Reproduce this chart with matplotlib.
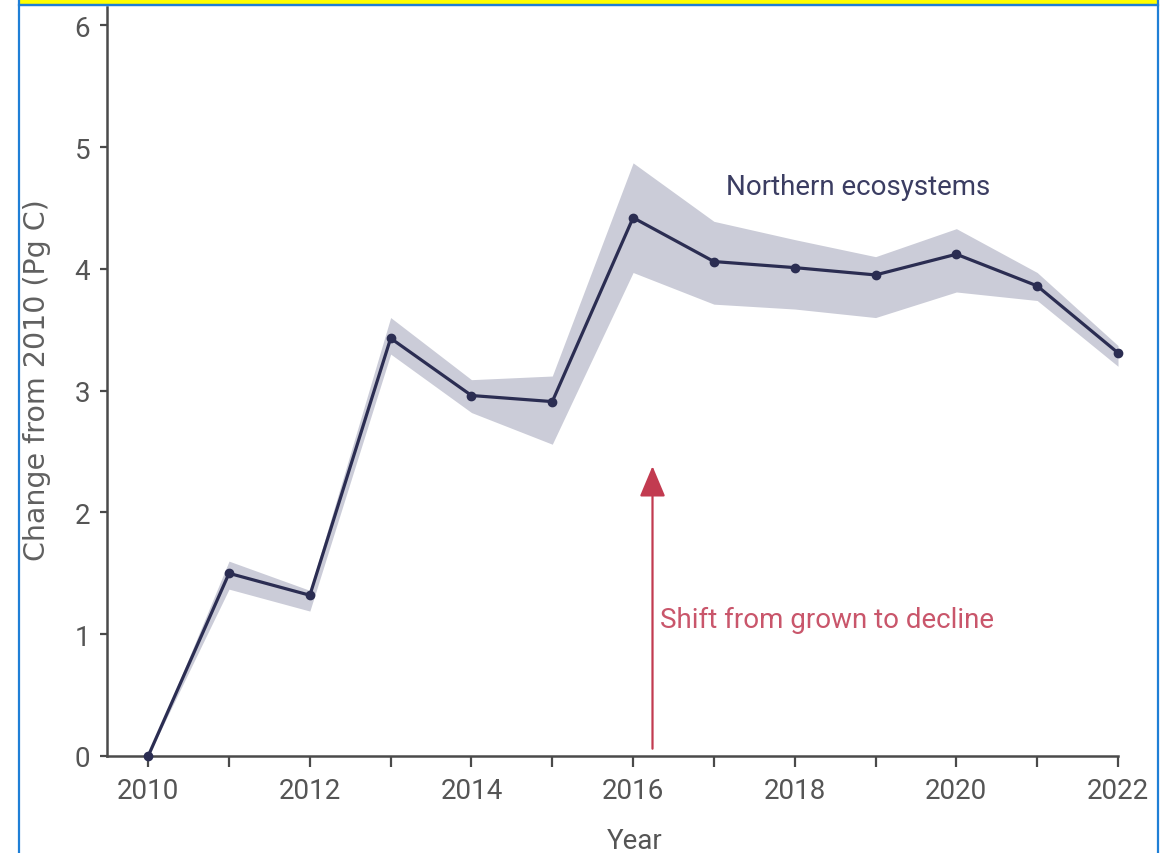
import matplotlib
matplotlib.use("Agg")
import matplotlib.pyplot as plt
from matplotlib.patches import Rectangle

# carbon stock change, northern ecosystems (Pg C relative to 2010)
years = [2010, 2011, 2012, 2013, 2014, 2015, 2016, 2017, 2018, 2019, 2020, 2021, 2022]
change = [0.0, 1.50, 1.32, 3.43, 2.96, 2.91, 4.42, 4.06, 4.01, 3.95, 4.12, 3.86, 3.31]
upper = [0.0, 1.60, 1.36, 3.60, 3.09, 3.12, 4.87, 4.39, 4.24, 4.10, 4.33, 3.97, 3.37]
lower = [0.0, 1.37, 1.19, 3.30, 2.82, 2.56, 3.97, 3.71, 3.67, 3.60, 3.81, 3.74, 3.20]

xtick_years = [2010, 2012, 2014, 2016, 2018, 2020, 2022]
yticks = [0, 1, 2, 3, 4, 5, 6]

shift_year = 2016.24
arrow_top = 2.38

line_col = "#2b2d52"
band_col = "#cbccd8"
gray = "#555555"
red = "#c23b50"

narrow = ["Roboto", "DejaVu Sans"]

fig = plt.figure(figsize=(11.73, 8.54), dpi=100)
fig.patch.set_facecolor("white")

# yellow header strip and blue panel frame
W, H = 1173.0, 854.0
fig.add_artist(Rectangle((19 / W, 1 - 6 / H), (1158 - 19) / W, 20 / H,
                         transform=fig.transFigure, facecolor="#ffff00",
                         edgecolor="#1f7fd6", lw=1.6, clip_on=False))
fig.add_artist(Rectangle((19 / W, -0.05), (1158 - 19) / W, 1.05 - 6 / H,
                         transform=fig.transFigure, facecolor="none",
                         edgecolor="#1f7fd6", lw=1.6, clip_on=False))

ax = fig.add_axes([107 / W, 97 / H, (1118 - 107) / W, (757 - 8) / H])
ax.set_xlim(2009.49, 2022)
ax.set_ylim(0, 6.15)

ax.fill_between(years, lower, upper, color=band_col, lw=0)
ax.plot(years, change, color=line_col, lw=2.3, marker="o", ms=6,
        clip_on=False, zorder=3)

ax.annotate("", xy=(shift_year, arrow_top), xytext=(shift_year, 0.06),
            arrowprops=dict(arrowstyle="-|>,head_length=1.0,head_width=0.42",
                            color=red, lw=1.6, mutation_scale=19,
                            shrinkA=0, shrinkB=0))
ax.text(2016.33, 1.12, "Shift from grown to decline", color="#c9566b",
        fontsize=20, family=narrow, va="center", ha="left")
ax.text(2017.15, 4.68, "Northern ecosystems", color="#3b3d62",
        fontsize=20, family=narrow, va="center", ha="left")

for side in ["top", "right"]:
    ax.spines[side].set_visible(False)
for side in ["left", "bottom"]:
    ax.spines[side].set_color("#4a4a4a")
    ax.spines[side].set_linewidth(1.8)

ax.set_xticks(years, minor=True)
ax.set_xticks(xtick_years)
ax.set_xticklabels([str(y) for y in xtick_years], family=narrow,
                   fontsize=20, color=gray)
ax.set_yticks(yticks)
ax.set_yticklabels([str(v) for v in yticks], family=narrow,
                   fontsize=20, color=gray)
ax.tick_params(axis="x", which="both", length=8, width=1.6, color="#4a4a4a", pad=7)
ax.tick_params(axis="y", length=5, width=1.6, color="#4a4a4a", pad=7)

fig.text(635 / W, 1 - 842 / H, "Year", family=narrow, fontsize=20,
         color=gray, ha="center", va="center")
fig.text(37 / W, 1 - 380 / H, "Change from 2010 (Pg C)", fontsize=20.5,
         color="#606060", rotation=90, ha="center", va="center")

fig.savefig("out.png", dpi=100, facecolor="white")
